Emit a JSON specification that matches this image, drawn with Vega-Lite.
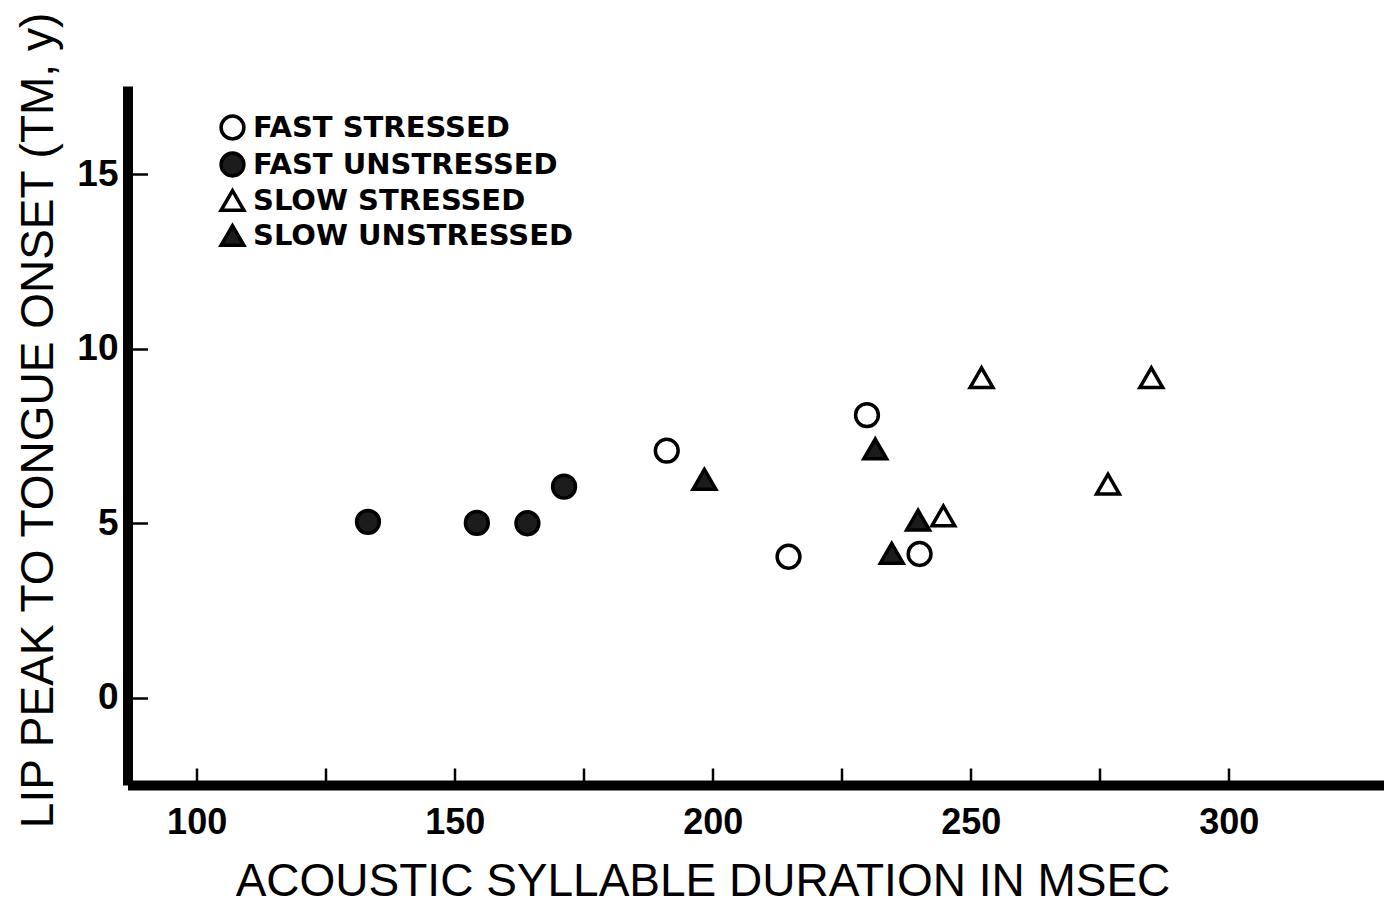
{
  "$schema": "https://vega.github.io/schema/vega-lite/v6.json",
  "width": 1256,
  "height": 699,
  "autosize": {"type": "none"},
  "padding": {"left": 127.5, "top": 86, "right": 10, "bottom": 119},
  "background": "white",
  "config": {
    "view": {"stroke": null},
    "legend": {
      "labelFont": "DejaVu Sans",
      "labelFontWeight": "bold",
      "labelFontSize": 29,
      "labelColor": "black",
      "labelLimit": 600,
      "labelOffset": 6,
      "rowPadding": 0,
      "symbolStrokeWidth": 3.5,
      "symbolStrokeColor": "black",
      "padding": 0
    }
  },
  "data": {
    "values": [
      {"duration": 191.1, "onset": 7.08, "condition": "FAST STRESSED"},
      {"duration": 229.9, "onset": 8.10, "condition": "FAST STRESSED"},
      {"duration": 214.7, "onset": 4.04, "condition": "FAST STRESSED"},
      {"duration": 240.1, "onset": 4.12, "condition": "FAST STRESSED"},
      {"duration": 133.2, "onset": 5.04, "condition": "FAST UNSTRESSED"},
      {"duration": 154.3, "onset": 5.01, "condition": "FAST UNSTRESSED"},
      {"duration": 164.1, "onset": 5.00, "condition": "FAST UNSTRESSED"},
      {"duration": 171.2, "onset": 6.05, "condition": "FAST UNSTRESSED"},
      {"duration": 244.7, "onset": 5.21, "condition": "SLOW STRESSED"},
      {"duration": 252.1, "onset": 9.17, "condition": "SLOW STRESSED"},
      {"duration": 285.0, "onset": 9.17, "condition": "SLOW STRESSED"},
      {"duration": 276.6, "onset": 6.12, "condition": "SLOW STRESSED"},
      {"duration": 198.4, "onset": 6.26, "condition": "SLOW UNSTRESSED"},
      {"duration": 231.5, "onset": 7.13, "condition": "SLOW UNSTRESSED"},
      {"duration": 239.8, "onset": 5.09, "condition": "SLOW UNSTRESSED"},
      {"duration": 234.7, "onset": 4.14, "condition": "SLOW UNSTRESSED"}
    ]
  },
  "mark": {"type": "point", "filled": true, "strokeWidth": 3.5, "opacity": 1},
  "encoding": {
    "x": {
      "field": "duration",
      "type": "quantitative",
      "scale": {"domain": [86.6, 330], "nice": false, "zero": false},
      "axis": {
        "values": [100, 125, 150, 175, 200, 225, 250, 275, 300],
        "labelExpr": "datum.value % 50 === 0 ? datum.label : ''",
        "grid": false,
        "domainColor": "black",
        "domainWidth": 10,
        "tickColor": "black",
        "tickWidth": 2.5,
        "tickSize": -17,
        "labelFont": "Liberation Sans",
        "labelFontWeight": "bold",
        "labelFontSize": 36,
        "labelColor": "black",
        "labelPadding": 37,
        "labelOverlap": false,
        "title": "ACOUSTIC SYLLABLE DURATION IN MSEC",
        "titleFont": "Liberation Sans",
        "titleFontWeight": "normal",
        "titleFontSize": 46,
        "titleColor": "black",
        "titleX": 575,
        "titleY": 110,
        "titleAlign": "center",
        "titleBaseline": "alphabetic"
      }
    },
    "y": {
      "field": "onset",
      "type": "quantitative",
      "scale": {"domain": [-2.5, 17.53], "nice": false, "zero": false},
      "axis": {
        "values": [0, 5, 10, 15],
        "grid": false,
        "domainColor": "black",
        "domainWidth": 10,
        "tickColor": "black",
        "tickWidth": 2.5,
        "tickSize": -20,
        "labelFont": "Liberation Sans",
        "labelFontWeight": "bold",
        "labelFontSize": 37,
        "labelColor": "black",
        "labelPadding": 29.5,
        "title": "LIP PEAK TO TONGUE ONSET (TM, y)",
        "titleFont": "Liberation Sans",
        "titleFontWeight": "normal",
        "titleFontSize": 46,
        "titleColor": "black",
        "titleX": -75.5,
        "titleY": 334,
        "titleAngle": -90,
        "titleAlign": "center",
        "titleBaseline": "alphabetic"
      }
    },
    "shape": {
      "field": "condition",
      "type": "nominal",
      "scale": {
        "domain": ["FAST STRESSED", "FAST UNSTRESSED", "SLOW STRESSED", "SLOW UNSTRESSED"],
        "range": ["circle", "circle", "triangle-up", "triangle-up"]
      },
      "legend": {
        "orient": "none", "legendX": 90.5, "legendY": 27, "title": null,
        "encode": {"symbols": {"update": {"stroke": {"value": "black"}, "strokeWidth": {"value": 3.5}, "size": {"scale": "size", "field": "value"}}}}
      }
    },
    "fill": {
      "field": "condition",
      "type": "nominal",
      "scale": {
        "domain": ["FAST STRESSED", "FAST UNSTRESSED", "SLOW STRESSED", "SLOW UNSTRESSED"],
        "range": ["white", "#1c1c1c", "white", "#1c1c1c"]
      },
      "legend": {
        "orient": "none", "legendX": 90.5, "legendY": 27, "title": null,
        "encode": {"symbols": {"update": {"stroke": {"value": "black"}, "strokeWidth": {"value": 3.5}, "size": {"scale": "size", "field": "value"}}}}
      }
    },
    "stroke": {
      "field": "condition",
      "type": "nominal",
      "scale": {
        "domain": ["FAST STRESSED", "FAST UNSTRESSED", "SLOW STRESSED", "SLOW UNSTRESSED"],
        "range": ["black", "black", "black", "black"]
      },
      "legend": {
        "orient": "none", "legendX": 90.5, "legendY": 27, "title": null,
        "encode": {"symbols": {"update": {"stroke": {"value": "black"}, "strokeWidth": {"value": 3.5}, "size": {"scale": "size", "field": "value"}}}}
      }
    },
    "size": {
      "field": "condition",
      "type": "nominal",
      "scale": {
        "domain": ["FAST STRESSED", "FAST UNSTRESSED", "SLOW STRESSED", "SLOW UNSTRESSED"],
        "range": [520, 520, 900, 900]
      },
      "legend": {
        "orient": "none", "legendX": 90.5, "legendY": 27, "title": null,
        "encode": {"symbols": {"update": {"stroke": {"value": "black"}, "strokeWidth": {"value": 3.5}, "size": {"scale": "size", "field": "value"}}}}
      }
    }
  }
}
